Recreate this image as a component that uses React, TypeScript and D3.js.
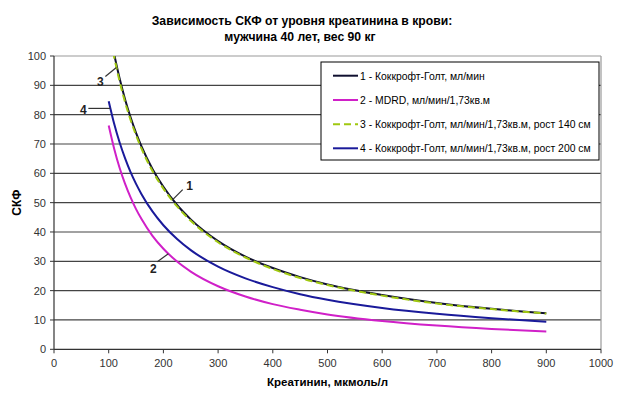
import React from "react";
import * as d3 from "d3";

const title1 = "Зависимость СКФ от уровня креатинина в крови:";
const title2 = "мужчина 40 лет, вес 90 кг";
const xTitle = "Креатинин, мкмоль/л";
const yTitle = "СКФ";

const xTicks = [0, 100, 200, 300, 400, 500, 600, 700, 800, 900, 1000];
const yTicks = [0, 10, 20, 30, 40, 50, 60, 70, 80, 90, 100];

const cg1X = [110, 120, 130, 140, 150, 160, 180, 200, 225, 250, 300, 350, 400, 450, 500, 600, 700, 800, 900];
const cg1Y = [100.6, 92.3, 85.2, 79.1, 73.8, 69.2, 61.5, 55.4, 49.2, 44.3, 36.9, 31.6, 27.7, 24.6, 22.1, 18.5, 15.8, 13.8, 12.3];

const mdrdX = [100, 110, 120, 130, 140, 150, 160, 180, 200, 225, 250, 300, 350, 400, 450, 500, 600, 700, 800, 900];
const mdrdY = [76.3, 68.4, 61.8, 56.4, 51.8, 47.8, 44.4, 38.7, 34.3, 29.9, 26.5, 21.5, 18.0, 15.4, 13.5, 11.9, 9.65, 8.08, 6.92, 6.05];

const cg3X = [108, 120, 130, 140, 150, 160, 180, 200, 225, 250, 300, 350, 400, 450, 500, 600, 700, 800, 900];
const cg3Y = [101.4, 91.3, 84.2, 78.2, 73.0, 68.4, 60.8, 54.8, 48.7, 43.8, 36.5, 31.3, 27.4, 24.3, 21.9, 18.3, 15.6, 13.7, 12.2];

const cg4X = [100, 110, 120, 130, 140, 150, 160, 180, 200, 225, 250, 300, 350, 400, 450, 500, 600, 700, 800, 900];
const cg4Y = [84.6, 76.9, 70.5, 65.1, 60.4, 56.4, 52.9, 47.0, 42.3, 37.6, 33.8, 28.2, 24.2, 21.2, 18.8, 16.9, 14.1, 12.1, 10.6, 9.4];

const seriesNames = [
  "1 - Коккрофт-Голт, мл/мин",
  "2 - MDRD, мл/мин/1,73кв.м",
  "3 - Коккрофт-Голт, мл/мин/1,73кв.м, рост 140 см",
  "4 - Коккрофт-Голт, мл/мин/1,73кв.м, рост 200 см",
];
const seriesColors = ["#101030", "#d020c8", "#a0c810", "#1a1a9a"];
const seriesDash = [null, null, "7,4", null];

// annotations: label, series index, x value on the curve
const annLabels = ["1", "2", "3", "4"];
const annSeries = [0, 1, 2, 3];
const annX = [217, 209, 114, 103];

export default function App() {
  const W = 640, H = 399;
  const left = 54, right = 601, top = 56, bottom = 349.3;
  const x = d3.scaleLinear().domain([0, 1000]).range([left, right]);
  const y = d3.scaleLinear().domain([0, 100]).range([bottom, top]);

  const series = [
    { xs: cg1X, ys: cg1Y },
    { xs: mdrdX, ys: mdrdY },
    { xs: cg3X, ys: cg3Y },
    { xs: cg4X, ys: cg4Y },
  ];
  const line = d3
    .line<[number, number]>()
    .x((d) => x(d[0]))
    .y((d) => y(d[1]))
    .curve(d3.curveMonotoneX);

  const interp = (s: { xs: number[]; ys: number[] }, v: number) => {
    const i = d3.bisectLeft(s.xs, v);
    const i0 = Math.max(1, Math.min(s.xs.length - 1, i));
    const x0 = s.xs[i0 - 1], x1 = s.xs[i0];
    const t = (v - x0) / (x1 - x0);
    return 1 / (1 / s.ys[i0 - 1] + t * (1 / s.ys[i0] - 1 / s.ys[i0 - 1]));
  };

  const annOffsets = [
    { tx: 17, ty: -14, lx: 10, ly: -10 },
    { tx: -15, ty: 15, lx: -11, ly: 8 },
    { tx: -16, ty: 14, lx: -11, ly: 9 },
    { tx: -27, ty: 1, lx: -22, ly: 0 },
  ];

  const drawOrder = [1, 3, 0, 2];
  const font = "'Liberation Sans', Arial, sans-serif";

  const legX = 321, legY = 62, legW = 278, legH = 98;
  const rowY = [75.7, 100, 124.3, 148.3];

  return (
    <div style={{ position: "fixed", left: 0, top: 0 }}>
      <svg width={W} height={H} style={{ display: "block", background: "#fff" }} fontFamily={font}>
        <defs>
          <clipPath id="plotClip">
            <rect x={left} y={top} width={right - left} height={bottom - top} />
          </clipPath>
        </defs>
        <rect x={0} y={0} width={W} height={H} fill="#fff" />
        <text x={302} y={25} textAnchor="middle" fontSize={12.2} fontWeight="bold" fill="#000">
          {title1}
        </text>
        <text x={300} y={41} textAnchor="middle" fontSize={12.2} fontWeight="bold" fill="#000">
          {title2}
        </text>

        {yTicks.slice(1).map((t) => (
          <line key={"g" + t} x1={left} x2={right} y1={y(t)} y2={y(t)} stroke={t === 100 ? "#999" : "#444"} strokeWidth={1.2} />
        ))}
        <line x1={right} x2={right} y1={top} y2={bottom} stroke="#999" strokeWidth={1.2} />

        <line x1={left} x2={left} y1={top} y2={bottom} stroke="#333" strokeWidth={1.2} />
        <line x1={left} x2={right} y1={bottom} y2={bottom} stroke="#333" strokeWidth={1.2} />
        {yTicks.map((t) => (
          <g key={"yt" + t}>
            <line x1={left - 4} x2={left} y1={y(t)} y2={y(t)} stroke="#333" />
            <text x={left - 8} y={y(t) + 4} textAnchor="end" fontSize={11} fill="#333">
              {t}
            </text>
          </g>
        ))}
        {xTicks.map((t) => (
          <g key={"xt" + t}>
            <line x1={x(t)} x2={x(t)} y1={bottom} y2={bottom + 4} stroke="#333" />
            <text x={x(t)} y={bottom + 18} textAnchor="middle" fontSize={11} fill="#333">
              {t}
            </text>
          </g>
        ))}

        <text x={(left + right) / 2} y={386} textAnchor="middle" fontSize={11.5} fontWeight="bold" fill="#000">
          {xTitle}
        </text>
        <text
          transform={`translate(21,${(top + bottom) / 2}) rotate(-90)`}
          textAnchor="middle"
          fontSize={12}
          fontWeight="bold"
          fill="#000"
        >
          {yTitle}
        </text>

        <g clipPath="url(#plotClip)">
          {drawOrder.map((i) => {
            const s = series[i];
            const pts: [number, number][] = s.xs.map((v, k) => [v, s.ys[k]]);
            return (
              <path
                key={"s" + i}
                d={line(pts) || ""}
                fill="none"
                stroke={seriesColors[i]}
                strokeWidth={2}
                strokeDasharray={seriesDash[i] || undefined}
              />
            );
          })}
        </g>

        {annLabels.map((lab, k) => {
          const s = series[annSeries[k]];
          const px = x(annX[k]);
          const py = y(interp(s, annX[k]));
          const o = annOffsets[k];
          return (
            <g key={"a" + k}>
              <line x1={px + o.lx} y1={py + o.ly} x2={px} y2={py} stroke="#333" strokeWidth={1.2} />
              <text x={px + o.tx} y={py + o.ty + 4.5} textAnchor="middle" fontSize={12} fontWeight="bold" fill="#222">
                {lab}
              </text>
            </g>
          );
        })}

        <rect x={legX} y={legY} width={legW} height={legH} fill="#fff" stroke="#000" strokeWidth={1} />
        {seriesNames.map((name, i) => (
          <g key={"l" + i}>
            <line
              x1={333}
              x2={358}
              y1={rowY[i]}
              y2={rowY[i]}
              stroke={seriesColors[i]}
              strokeWidth={2}
              strokeDasharray={seriesDash[i] || undefined}
            />
            <text x={360} y={rowY[i] + 4} fontSize={10.4} fill="#000">
              {name}
            </text>
          </g>
        ))}
      </svg>
    </div>
  );
}
